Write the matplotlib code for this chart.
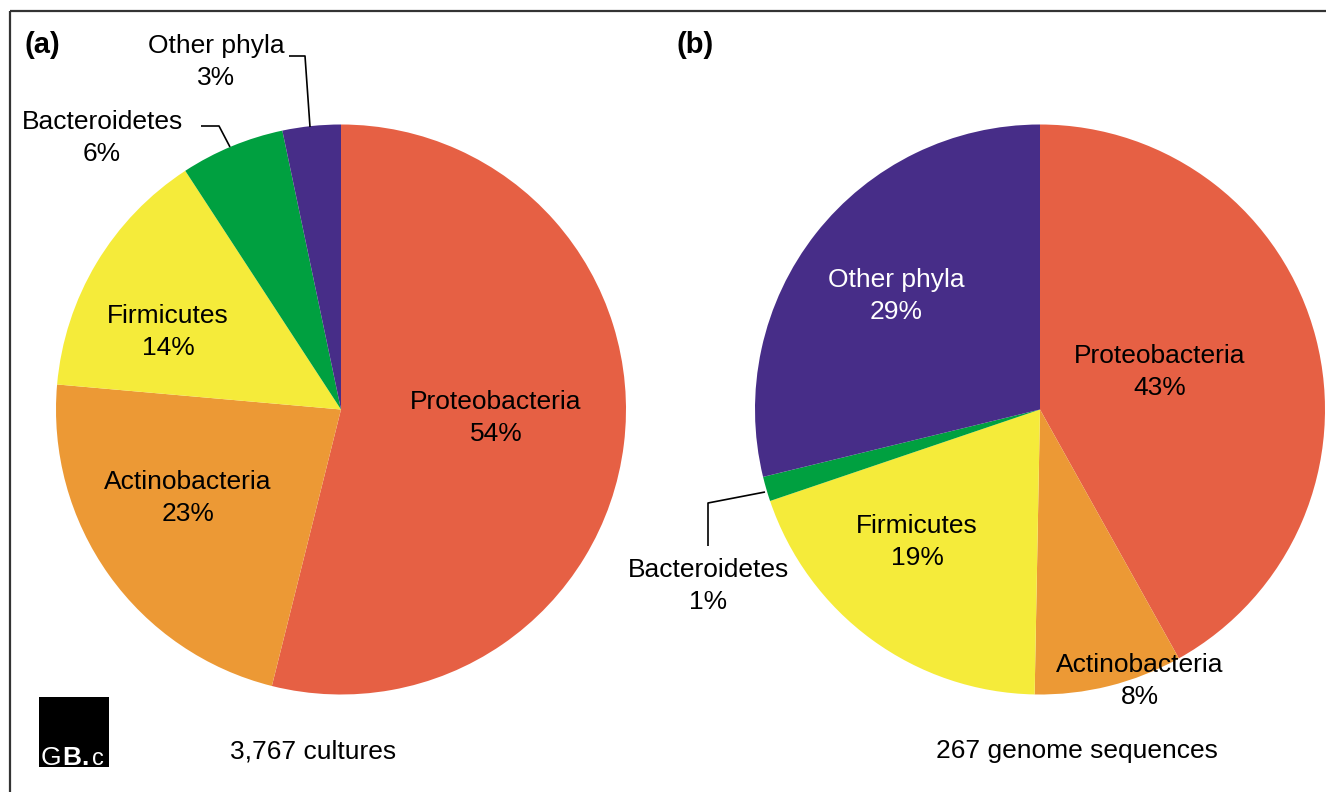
import matplotlib
matplotlib.use("Agg")
import matplotlib.pyplot as plt
from matplotlib.patches import Rectangle

plt.rcParams['font.family'] = ['Liberation Sans', 'DejaVu Sans']

# ---- data ----
phyla = ["Proteobacteria", "Actinobacteria", "Firmicutes", "Bacteroidetes", "Other phyla"]
cultures_share = [53.9, 22.5, 14.4, 5.9, 3.3]
cultures_labels = ["54%", "23%", "14%", "6%", "3%"]
genomes_share = [41.9, 8.4, 19.5, 1.4, 28.8]
genomes_labels = ["43%", "8%", "19%", "1%", "29%"]
colors = ["#E66044", "#EC9935", "#F5EB3A", "#00A040", "#472D88"]
panel_titles = ["(a)", "(b)"]
captions = ["3,767 cultures", "267 genome sequences"]

W, H = 1326, 792
fig = plt.figure(figsize=(W / 100, H / 100), dpi=100)
ax = fig.add_axes([0, 0, 1, 1])

def Y(y):
    return H - y

R = 285
centers = [(341, Y(409.5)), (1040, Y(409.5))]

for vals, c in zip([cultures_share, genomes_share], centers):
    ax.pie(vals, colors=colors, startangle=90, counterclock=False,
           center=c, radius=R, wedgeprops=dict(linewidth=0))

ax.set_xlim(0, W)
ax.set_ylim(0, H)
ax.set_aspect('equal')
ax.axis('off')

fs = 19
ls = 1.37
# label positions (pixel centers)
pos_a = [(496, 418), (188, 498), (168, 332), (102, 138), (216, 62)]
pos_b = [(1160, 372), (1140, 681), (917, 542), (708, 586), (896, 296)]
for name, lab, (x, y) in zip(phyla, cultures_labels, pos_a):
    ax.text(x, Y(y), f"{name}\n{lab}", ha='center', va='center', fontsize=fs,
            color='black', linespacing=ls)
for name, lab, (x, y) in zip(phyla, genomes_labels, pos_b):
    col = 'white' if name == "Other phyla" else 'black'
    ax.text(x, Y(y), f"{name}\n{lab}", ha='center', va='center', fontsize=fs,
            color=col, linespacing=ls)

# leader lines
lk = dict(color='black', lw=1.2, solid_capstyle='butt')
ax.plot([201, 219, 230], [Y(126), Y(126), Y(147)], **lk)
ax.plot([289, 305, 310], [Y(56), Y(56), Y(127)], **lk)
ax.plot([708, 708, 765], [Y(546), Y(503), Y(492)], **lk)

# panel titles
ax.text(42.5, Y(45), panel_titles[0], ha='center', va='center', fontsize=21, fontweight='bold')
ax.text(695, Y(45), panel_titles[1], ha='center', va='center', fontsize=21, fontweight='bold')

# captions
ax.text(313, Y(751), captions[0], ha='center', va='center', fontsize=fs)
ax.text(1077, Y(751), captions[1], ha='center', va='center', fontsize=fs)

# border
ax.plot([10, W], [Y(11), Y(11)], color='#333333', lw=1.6, solid_capstyle='butt')
ax.plot([10, 10], [Y(11), 0], color='#333333', lw=1.6, solid_capstyle='butt')

# logo
ax.add_patch(Rectangle((39, Y(767)), 70, 70, facecolor='black', edgecolor='none'))
ax.text(41, Y(765), "G", color='white', fontsize=19, ha='left', va='baseline')
ax.text(62, Y(765), "B", color='white', fontsize=19, ha='left', va='baseline',
        fontweight='bold')
ax.text(81.5, Y(765), ".", color='white', fontsize=19, ha='left', va='baseline',
        fontweight='bold')
ax.text(92, Y(765), "c", color='white', fontsize=17, ha='left', va='baseline')

fig.savefig("out.png", dpi=100)
